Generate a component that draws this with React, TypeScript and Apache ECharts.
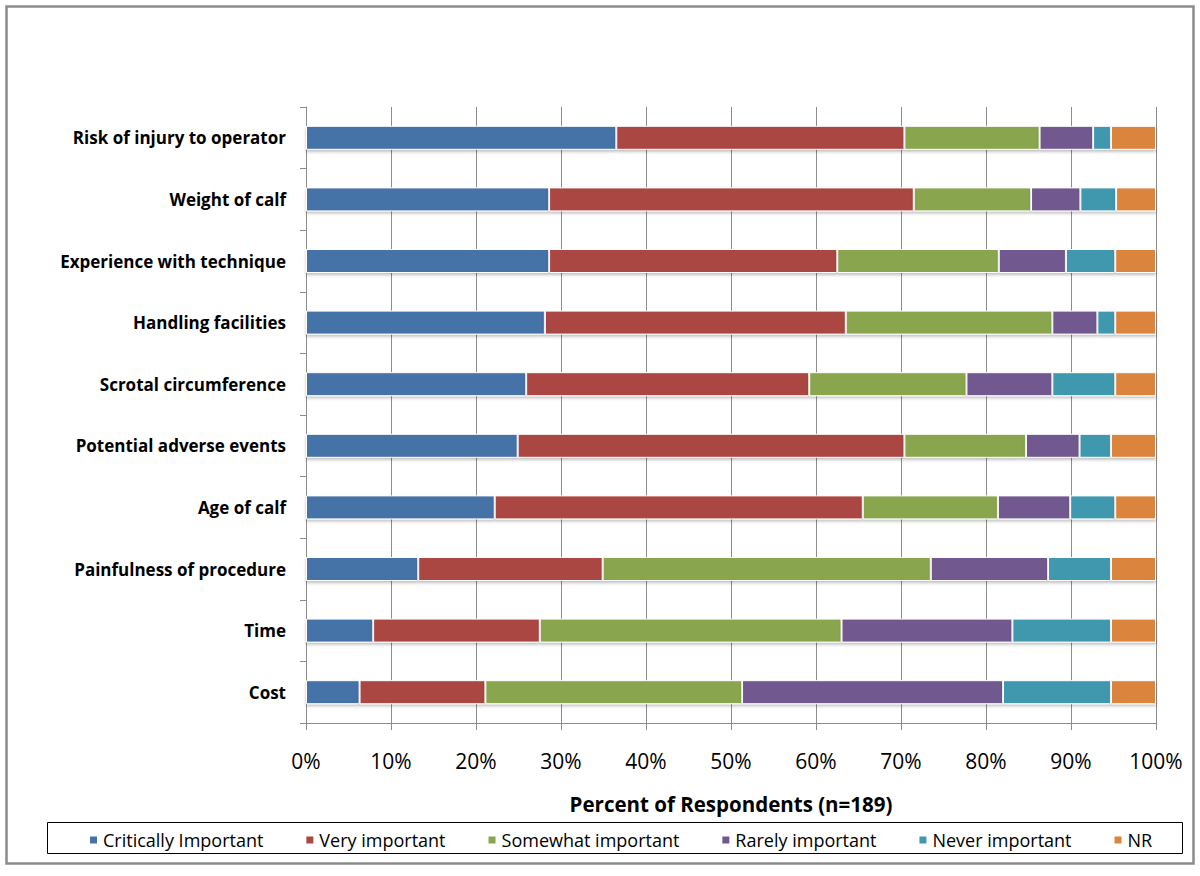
import React, { useEffect, useRef } from "react";
import * as echarts from "echarts";

const categories = [
  "Risk of injury to operator",
  "Weight of calf",
  "Experience with technique",
  "Handling facilities",
  "Scrotal circumference",
  "Potential adverse events",
  "Age of calf",
  "Painfulness of procedure",
  "Time",
  "Cost",
];

const seriesNames = [
  "Critically Important",
  "Very important",
  "Somewhat important",
  "Rarely important",
  "Never important",
  "NR",
];

const colors = ["#4572A7", "#AA4643", "#89A54E", "#71588F", "#4198AF", "#DB843D"];

const critically = [36.5, 28.6, 28.6, 28.1, 25.9, 24.9, 22.2, 13.2, 7.9, 6.3];
const very = [33.9, 42.9, 33.9, 35.4, 33.3, 45.5, 43.3, 21.7, 19.6, 14.8];
const somewhat = [15.9, 13.8, 19.0, 24.3, 18.5, 14.3, 15.9, 38.6, 35.5, 30.2];
const rarely = [6.3, 5.8, 7.9, 5.3, 10.1, 6.3, 8.5, 13.8, 20.1, 30.7];
const never = [2.1, 4.2, 5.8, 2.1, 7.4, 3.7, 5.3, 7.4, 11.6, 12.7];
const nr = [5.3, 4.7, 4.8, 4.8, 4.8, 5.3, 4.8, 5.3, 5.3, 5.3];

const allData = [critically, very, somewhat, rarely, never, nr];

const xTicks = [0, 10, 20, 30, 40, 50, 60, 70, 80, 90, 100];

const FONT = "'Open Sans', 'Noto Sans', sans-serif";

export default function App() {
  const ref = useRef<HTMLDivElement>(null);
  useEffect(() => {
    if (!ref.current) return;
    const chart = echarts.init(ref.current, undefined, { renderer: "svg" });
    chart.setOption({
      animation: false,
      backgroundColor: "#ffffff",
      textStyle: { fontFamily: FONT },
      grid: { left: 306, right: 44, top: 107, bottom: 153, containLabel: false },
      xAxis: {
        type: "value",
        min: xTicks[0],
        max: xTicks[xTicks.length - 1],
        interval: 10,
        axisLine: { show: true, lineStyle: { color: "#8c8c8c", width: 1 } },
        axisTick: { show: true, length: 7, lineStyle: { color: "#8c8c8c" } },
        splitLine: { show: true, lineStyle: { color: "#8c8c8c", width: 1 } },
        axisLabel: {
          formatter: "{value}%",
          fontSize: 21,
          color: "#000",
          margin: 27,
          fontFamily: FONT,
        },
        name: "Percent of Respondents (n=189)",
        nameLocation: "middle",
        nameGap: 70,
        nameTextStyle: { fontSize: 20.5, fontWeight: "bold", color: "#000", fontFamily: FONT },
      },
      yAxis: {
        type: "category",
        inverse: true,
        data: categories,
        axisLine: { show: true, lineStyle: { color: "#8c8c8c", width: 1 } },
        axisTick: { show: true, length: 6, lineStyle: { color: "#8c8c8c" } },
        axisLabel: {
          fontSize: 17,
          fontWeight: "bold",
          color: "#000",
          margin: 20,
          fontFamily: FONT,
        },
      },
      legend: {
        data: seriesNames,
        left: 83,
        top: 826,
        itemWidth: 9,
        itemHeight: 9,
        itemGap: 41,
        icon: "rect",
        textStyle: { fontSize: 18, color: "#000", fontFamily: FONT },
      },
      graphic: [
        {
          type: "rect",
          shape: { x: 6.5, y: 6.5, width: 1187, height: 857 },
          style: { fill: "none", stroke: "#8c8c8c", lineWidth: 2.5 },
          silent: true,
        },
        {
          type: "rect",
          shape: { x: 47.5, y: 822.5, width: 1135, height: 31 },
          style: { fill: "none", stroke: "#000", lineWidth: 1 },
          silent: true,
        },
      ],
      series: seriesNames.map((name, i) => ({
        name,
        type: "bar",
        stack: "total",
        barWidth: 24,
        data: allData[i],
        itemStyle: {
          color: colors[i],
          borderColor: "#ffffff",
          borderWidth: 1,
          shadowColor: "rgba(0,0,0,0.25)",
          shadowBlur: 3,
          shadowOffsetY: 2,
        },
      })),
    });
    return () => chart.dispose();
  }, []);
  return (
    <div
      ref={ref}
      style={{ position: "fixed", left: 0, top: 0, width: 1200, height: 876 }}
    />
  );
}
